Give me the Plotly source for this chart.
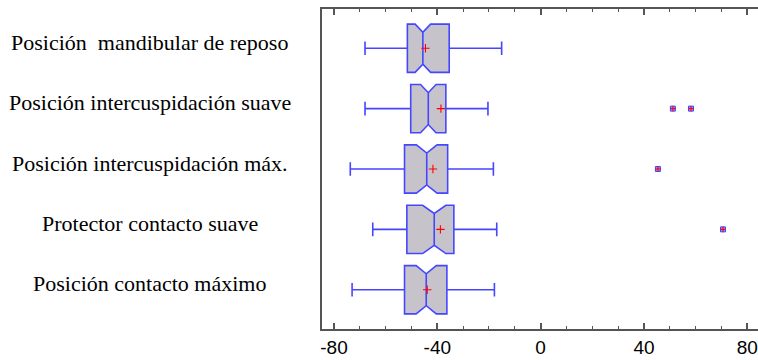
import plotly.graph_objects as go

categories = [
    "Posición  mandibular de reposo",
    "Posición intercuspidación suave",
    "Posición intercuspidación máx.",
    "Protector contacto suave",
    "Posición contacto máximo",
]
lower_whisker = [-68.0, -68.0, -73.7, -65.0, -73.0]
q1_vals = [-51.6, -50.3, -52.7, -51.8, -52.7]
median_vals = [-45.6, -43.5, -44.1, -41.2, -44.3]
q3_vals = [-35.4, -36.7, -36.0, -33.6, -36.3]
upper_whisker = [-15.1, -20.4, -18.3, -17.0, -17.9]
notch_half = [3.0, 3.0, 4.0, 4.5, 3.9]
mean_vals = [-44.6, -38.6, -41.7, -38.8, -43.9]
outlier_cat = [
    "Posición intercuspidación suave",
    "Posición intercuspidación suave",
    "Posición intercuspidación máx.",
    "Protector contacto suave",
]
outlier_vals = [51.2, 58.2, 45.4, 70.6]
x_tick_vals = [-80, -40, 0, 40, 80]
x_tick_text = ["-80", "-40", "0", "40", "80"]

BLUE = "#4646ff"
FILL = "#c6c4ca"

fig = go.Figure()
fig.add_trace(go.Box(
    y=categories, q1=q1_vals, median=median_vals, q3=q3_vals,
    lowerfence=lower_whisker, upperfence=upper_whisker,
    notched=True, notchspan=notch_half, notchwidth=0.17,
    orientation="h", width=0.8, whiskerwidth=0.28,
    fillcolor=FILL, line=dict(color=BLUE, width=1.6),
    boxpoints=False, showlegend=False, hoverinfo="skip",
))
fig.add_trace(go.Scatter(
    x=mean_vals, y=categories, mode="markers",
    marker=dict(symbol="cross-thin", size=6, line=dict(color="red", width=1.1)),
    showlegend=False, hoverinfo="skip",
))
fig.add_trace(go.Scatter(
    x=outlier_vals, y=outlier_cat, mode="markers",
    marker=dict(symbol="square", size=5, color="#8f8cf5", line=dict(color=BLUE, width=1)),
    showlegend=False, hoverinfo="skip",
))
fig.add_trace(go.Scatter(
    x=outlier_vals, y=outlier_cat, mode="markers",
    marker=dict(symbol="cross-thin", size=4, line=dict(color="red", width=1)),
    showlegend=False, hoverinfo="skip",
))

for c in categories:
    fig.add_annotation(
        x=-0.3945, xref="paper", y=c, yref="y", text=c, showarrow=False,
        xanchor="center", yanchor="middle", yshift=6,
        font=dict(family="Liberation Serif, Times New Roman, serif", size=22, color="black"),
    )

fig.update_layout(
    width=758, height=360,
    margin=dict(l=322, r=0, t=9, b=31, autoexpand=False),
    paper_bgcolor="white", plot_bgcolor="white",
    xaxis=dict(
        range=[-84.65, 84.15], tickvals=x_tick_vals, ticktext=x_tick_text,
        ticks="inside", ticklen=6, tickwidth=1.5, tickcolor="#555555",
        minor=dict(dtick=10, tick0=0, ticks="inside", ticklen=3, tickwidth=1.2, tickcolor="#555555"),
        showline=True, linecolor="#555555", linewidth=1.5, mirror="ticks",
        showgrid=False, zeroline=False, automargin=False,
        tickfont=dict(family="Liberation Sans, Arial, sans-serif", size=19, color="black"),
    ),
    yaxis=dict(
        categoryorder="array", categoryarray=categories,
        range=[4.65, -0.65], showticklabels=False, ticks="",
        showline=True, linecolor="#555555", linewidth=1.5,
        showgrid=False, zeroline=False, automargin=False,
    ),
)

fig.write_html(
    "out.html",
    config={"displayModeBar": False},
    post_script="document.body.style.margin='0';window.dispatchEvent(new Event('resize'));",
)
